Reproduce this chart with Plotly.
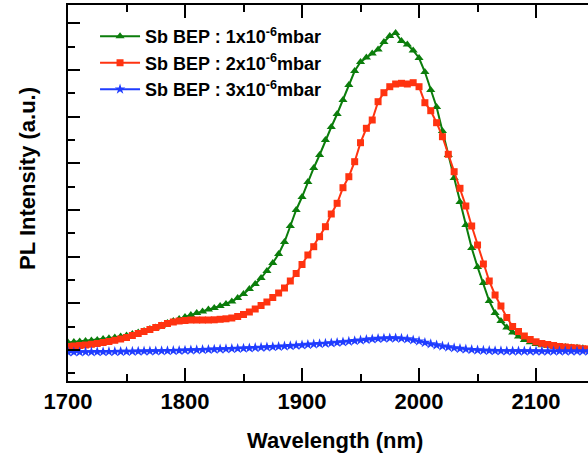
import plotly.graph_objects as go

wavelength = list(range(1700, 2150, 5))

green_1e6 = [38.5, 39, 39.5, 40, 40.5, 41, 42, 42.7, 43.5, 44.5,
             45.5, 47, 48.5, 50, 52, 53.5, 55.5, 58, 60, 62,
             64, 66, 68, 69.5, 71.5, 73, 75, 77, 79.5, 83,
             87, 92, 97, 103, 110, 118, 127, 139, 155, 171,
             184, 199, 213, 226, 241, 254, 267, 281, 296, 310,
             319, 323.5, 327.5, 331.5, 339, 345, 348, 340, 336.5, 330.5,
             323, 309, 291, 274, 250, 226, 203, 179, 156, 133,
             114, 98, 80, 68, 60, 53.5, 48.5, 44.5, 41, 38.7,
             37, 35.8, 35, 34.5, 34.2, 34, 33.6, 33.2, 32.8, 32.5]

red_2e6 = [34.5, 35, 35.5, 36, 36.7, 37.5, 38.5, 39.5, 40.7, 42,
           43.5, 45.5, 47.5, 49.5, 51.5, 53.5, 55.5, 57.5, 59, 60,
           60.5, 61, 61, 61, 61, 61.2, 61.7, 62.2, 63, 64.5,
           66.5, 69, 72, 75.5, 79, 83.5, 88, 93, 100, 107.5,
           116.5, 126, 134.3, 144.3, 154.3, 167, 177.7, 193.3, 204.3, 219.3,
           238.3, 252.7, 261, 279.3, 288.3, 294.3, 297, 297.7, 297, 298.3,
           294.3, 278.3, 270.3, 258.3, 244.3, 226.7, 209.3, 192.7, 175, 155,
           136, 117, 100, 86, 75, 63.5, 54.5, 49.5, 45, 41.5,
           39.2, 37.5, 36.5, 35.5, 34.5, 34, 33.4, 33, 32.3, 32]

blue_3e6 = [29.0, 29.0, 29.0, 29.1, 29.1, 29.2, 29.2, 29.3, 29.3, 29.4,
            29.5, 29.6, 29.7, 29.8, 29.9, 30.0, 30.1, 30.2, 30.3, 30.5,
            30.7, 30.9, 31.1, 31.3, 31.5, 31.7, 31.9, 32.1, 32.3, 32.5,
            32.7, 33.0, 33.3, 33.6, 33.9, 34.2, 34.5, 34.8, 35.2, 35.6,
            36.0, 36.4, 36.8, 37.2, 37.6, 38.0, 38.5, 39.0, 39.6, 40.2,
            40.8, 41.4, 42.0, 42.4, 42.7, 42.9, 42.9, 42.6, 42.0, 41.0,
            39.8, 38.4, 37.1, 35.9, 34.8, 33.9, 33.1, 32.4, 31.8, 31.3,
            30.9, 30.6, 30.4, 30.2, 30.1, 30.0, 29.9, 29.9, 29.9, 29.9,
            29.9, 29.8, 29.8, 29.8, 29.8, 29.8, 29.8, 29.8, 29.8, 29.8]

series_names = ["Sb BEP : 1x10<sup>-6</sup>mbar",
                "Sb BEP : 2x10<sup>-6</sup>mbar",
                "Sb BEP : 3x10<sup>-6</sup>mbar"]
x_ticks = [1700, 1800, 1900, 2000, 2100]

FONT = "Arial, Liberation Sans, sans-serif"

fig = go.Figure()
fig.add_trace(go.Scatter(x=wavelength, y=green_1e6, name=series_names[0], mode="lines+markers",
                         line=dict(color="#0b7d0b", width=2),
                         marker=dict(symbol="triangle-up", size=8, color="#0b7d0b")))
fig.add_trace(go.Scatter(x=wavelength, y=red_2e6, name=series_names[1], mode="lines+markers",
                         line=dict(color="#ff3310", width=2),
                         marker=dict(symbol="square", size=7, color="#ff3310")))
fig.add_trace(go.Scatter(x=wavelength, y=blue_3e6, name=series_names[2], mode="lines+markers",
                         line=dict(color="#1f3cff", width=2),
                         marker=dict(symbol="star", size=8, color="#1f3cff")))

fig.update_layout(
    width=588, height=454,
    margin=dict(l=68, r=0, t=5, b=73),
    paper_bgcolor="white", plot_bgcolor="white",
    showlegend=True,
    legend=dict(x=0.052, y=0.965, xanchor="left", yanchor="top",
                font=dict(family=FONT, size=18, color="black", weight="bold"),
                bgcolor="rgba(0,0,0,0)", itemwidth=40, tracegroupgap=0),
    xaxis=dict(range=[1700, 2144.4], tickvals=x_ticks, ticks="inside", ticklen=13, tickwidth=2,
               tickcolor="black", showline=True, linecolor="black", linewidth=2, mirror="ticks",
               showgrid=False, zeroline=False,
               minor=dict(dtick=50, tick0=1750, ticks="inside", ticklen=7, tickwidth=2, tickcolor="black"),
               tickfont=dict(family=FONT, size=22, color="black", weight="bold")),
    yaxis=dict(range=[0, 376], tick0=31, dtick=46.667, ticks="inside", ticklen=12, tickwidth=2,
               tickcolor="black", showline=True, linecolor="black", linewidth=2,
               showticklabels=False, showgrid=False, zeroline=False,
               minor=dict(dtick=23.333, tick0=7.667, ticks="inside", ticklen=7, tickwidth=2, tickcolor="black")),
    yaxis2=dict(range=[0, 376], tick0=31, dtick=46.667, overlaying="y", side="right", ticks="inside",
                ticklen=6, tickwidth=2, tickcolor="black", showline=False, showticklabels=False,
                showgrid=False, zeroline=False),
    annotations=[
        dict(text="Wavelength (nm)", x=0.513, y=-0.157, xref="paper", yref="paper",
             xanchor="center", yanchor="middle", showarrow=False,
             font=dict(family=FONT, size=22, color="black", weight="bold")),
        dict(text="PL Intensity (a.u.)", x=-0.077, y=0.54, xref="paper", yref="paper",
             xanchor="center", yanchor="middle", showarrow=False, textangle=-90,
             font=dict(family=FONT, size=22, color="black", weight="bold")),
    ],
)

fig.write_html("out.html", config={"displayModeBar": False},
               post_script="document.body.style.margin='0';document.body.style.overflow='hidden';")
